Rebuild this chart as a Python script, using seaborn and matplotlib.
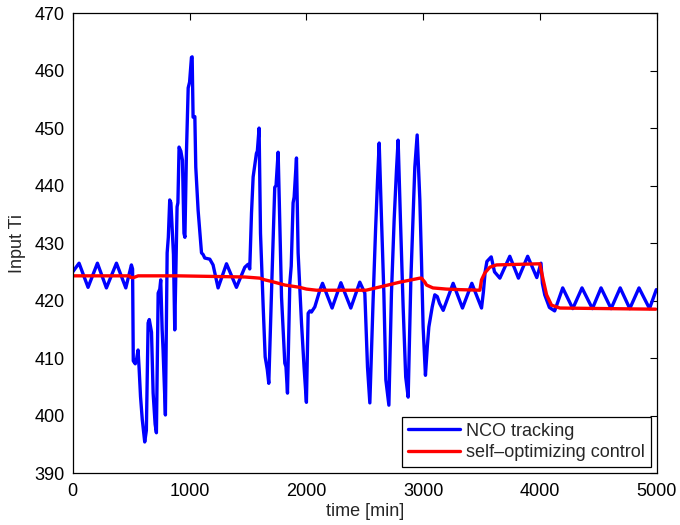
import numpy as np
import pandas as pd
import matplotlib
matplotlib.use("Agg")
import matplotlib.pyplot as plt
import seaborn as sns

# NCO tracking (blue) — time [min], Input Ti
t_nco = [0, 54, 131, 211, 288, 374, 454, 502, 512, 518, 535, 548, 559, 568, 580, 595, 616, 630,
         645, 655, 674, 688, 705, 716, 731, 745, 753, 765, 773, 793, 808, 818, 830, 840, 853, 862,
         873, 893, 900, 910, 925, 939, 952, 960, 973, 988, 1000, 1016, 1022, 1030, 1045, 1053,
         1073, 1093, 1102, 1116, 1130, 1173, 1201, 1244, 1316, 1401, 1473, 1500, 1515, 1530,
         1544, 1572, 1580, 1595, 1607, 1630, 1647, 1665, 1678, 1701, 1729, 1740, 1758, 1772,
         1787, 1815, 1825, 1838, 1858, 1870, 1886, 1895, 1915, 1929, 1958, 1980, 2000, 2015,
         2030, 2043, 2072, 2115, 2138, 2220, 2295, 2380, 2457, 2500, 2523, 2543, 2571, 2592,
         2609, 2623, 2643, 2663, 2680, 2706, 2728, 2751, 2771, 2785, 2805, 2828, 2850, 2871,
         2894, 2914, 2928, 2948, 2971, 2985, 2999, 3019, 3035, 3048, 3077, 3099, 3120, 3140,
         3171, 3256, 3336, 3416, 3499, 3515, 3530, 3545, 3582, 3610, 3656, 3741, 3815, 3894,
         3972, 4008, 4020, 4040, 4080, 4125, 4194, 4280, 4359, 4448, 4522, 4608, 4686, 4768,
         4847, 4937, 4995]
v_nco = [425.0, 426.5, 422.3, 426.5, 422.2, 426.5, 422.2, 426.2, 425.5, 409.5, 409.0, 410.0,
         411.4, 408.2, 403.3, 399.3, 395.4, 397.4, 416.1, 416.7, 414.5, 403.9, 398.5, 397.0,
         421.3, 422.0, 423.6, 415.0, 411.4, 400.1, 428.3, 431.0, 437.5, 437.0, 431.7, 428.0,
         414.9, 436.3, 437.0, 446.7, 446.0, 444.4, 431.7, 431.0, 445.6, 457.0, 458.0, 462.3,
         462.4, 451.9, 452.0, 443.2, 435.7, 430.5, 428.3, 428.0, 427.4, 427.2, 426.2, 422.2,
         426.4, 422.3, 425.8, 426.3, 425.5, 435.2, 441.5, 445.6, 446.0, 450.0, 431.7, 418.9,
         410.2, 408.0, 405.6, 421.3, 439.7, 440.0, 445.8, 434.0, 420.6, 409.1, 408.5, 403.9,
         423.0, 426.0, 437.0, 438.0, 444.8, 428.3, 416.1, 408.4, 402.3, 417.8, 418.2, 418.0,
         418.9, 421.8, 423.0, 418.7, 423.1, 418.7, 423.2, 421.3, 408.4, 402.2, 420.1, 432.3,
         441.0, 447.4, 434.0, 421.3, 406.2, 401.8, 421.3, 434.0, 442.7, 447.9, 434.0, 418.9,
         406.7, 403.2, 423.6, 435.2, 443.2, 448.8, 437.5, 427.0, 415.4, 407.0, 412.0, 415.4,
         418.9, 421.0, 420.7, 419.5, 418.3, 423.0, 418.7, 423.0, 418.7, 421.5, 425.0, 426.8,
         427.6, 425.0, 423.9, 427.7, 423.9, 427.7, 424.0, 426.5, 423.0, 421.0, 418.8, 418.2,
         422.2, 418.6, 422.2, 418.6, 422.2, 418.6, 422.2, 418.6, 422.2, 418.6, 421.9]

# self-optimizing control (red)
t_soc = [0, 480, 500, 520, 560, 900, 1473, 1601, 1644, 1687, 1798, 1815, 1943, 2000, 2043,
         2086, 2300, 2511, 2657, 2800, 2971, 2985, 3014, 3028, 3083, 3196, 3313, 3485, 3499,
         3527, 3570, 3627, 3998, 4027, 4056, 4098, 4170, 4990]
v_soc = [424.3, 424.3, 424.0, 424.0, 424.3, 424.3, 424.1, 423.9, 423.6, 423.4, 422.8, 422.7,
         422.3, 422.0, 421.9, 421.8, 421.8, 421.8, 422.5, 423.2, 423.9, 423.9, 423.2, 422.7,
         422.2, 422.0, 421.9, 421.8, 423.6, 424.8, 425.8, 426.2, 426.4, 423.6, 421.0, 419.2,
         418.7, 418.5]

x_ticks = [0, 1000, 2000, 3000, 4000, 5000]
y_ticks = [390, 400, 410, 420, 430, 440, 450, 460, 470]

sns.set_style("white")
plt.rcParams['font.family'] = ['Liberation Sans', 'DejaVu Sans']

df_nco = pd.DataFrame({"t": t_nco, "v": v_nco})
df_soc = pd.DataFrame({"t": t_soc, "v": v_soc})

fig = plt.figure(figsize=(6.8, 5.25), dpi=100)
ax = fig.add_axes([0.107, 0.099, 0.859, 0.876])

sns.lineplot(data=df_nco, x="t", y="v", color="#0000ff", lw=2.4, estimator=None,
             sort=False, label="NCO tracking", ax=ax, solid_joinstyle="round")
sns.lineplot(data=df_soc, x="t", y="v", color="#ff0000", lw=2.4, estimator=None,
             sort=False, label="self\u2013optimizing control", ax=ax, solid_joinstyle="round")

ax.set_xlim(0, 5000)
ax.set_ylim(390, 470)
ax.set_xticks(x_ticks)
ax.set_yticks(y_ticks)
ax.set_xticklabels([str(x) for x in x_ticks])
ax.set_yticklabels([str(y) for y in y_ticks])
ax.tick_params(direction="in", length=5, width=0.8, top=True, right=True,
               labelsize=13, colors="black")
ax.tick_params(axis="x", pad=7)
ax.tick_params(axis="y", pad=6)
for s in ax.spines.values():
    s.set_visible(True)
    s.set_color("black")
    s.set_linewidth(0.9)

ax.set_xlabel("time [min]", fontsize=13, labelpad=2)
ax.set_ylabel("Input Ti", fontsize=13, labelpad=6)

leg = ax.legend(loc="lower right", fontsize=13, frameon=True, fancybox=False,
                edgecolor="black", framealpha=1, borderpad=0.3, handlelength=2.9,
                handletextpad=0.35, labelspacing=0.25, borderaxespad=0.35)
leg.get_frame().set_linewidth(0.9)

fig.savefig("out.png", dpi=100)
